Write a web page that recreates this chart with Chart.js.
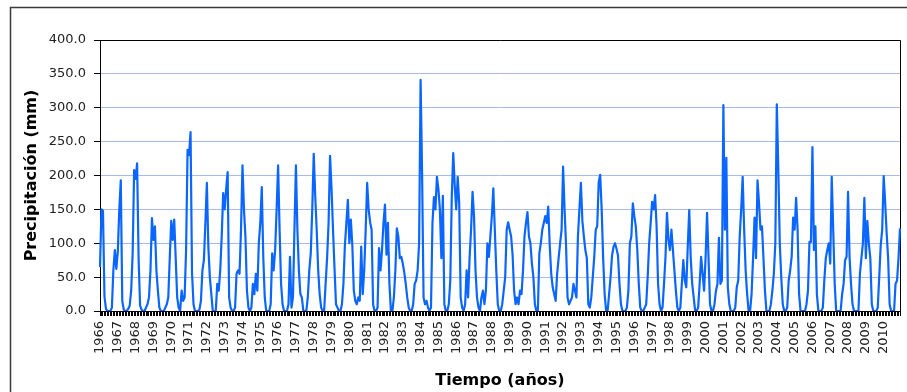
<!DOCTYPE html>
<html>
<head>
<meta charset="utf-8">
<script src="https://cdn.jsdelivr.net/npm/chart.js@4/dist/chart.umd.min.js"></script>
<style>
  html, body { margin: 0; padding: 0; background: #ffffff; }
  #wrap { width: 907px; height: 392px; position: relative; }
</style>
</head>
<body>
<div id="wrap"><canvas id="chart" width="907" height="392"></canvas></div>
<script>
// ---- Data (monthly precipitation, mm; Jan..Dec per year) ----
const years = [1966,1967,1968,1969,1970,1971,1972,1973,1974,1975,1976,1977,1978,1979,1980,
  1981,1982,1983,1984,1985,1986,1987,1988,1989,1990,1991,1992,1993,1994,1995,1996,1997,1998,
  1999,2000,2001,2002,2003,2004,2005,2006,2007,2008,2009,2010];

const precipitation = [
  /*1966*/ 65, 150, 148, 22, 3, 0, 0, 0, 5, 60, 90, 62,
  /*1967*/ 88, 150, 193, 15, 2, 0, 0, 3, 8, 30, 85, 208,
  /*1968*/ 195, 218, 78, 8, 2, 0, 0, 5, 10, 20, 60, 137,
  /*1969*/ 105, 125, 60, 30, 5, 0, 0, 0, 5, 10, 20, 78,
  /*1970*/ 133, 105, 135, 78, 20, 5, 0, 30, 15, 20, 90, 238,
  /*1971*/ 230, 264, 56, 10, 0, 0, 0, 2, 15, 60, 75, 130,
  /*1972*/ 189, 95, 50, 25, 0, 0, 0, 40, 30, 60, 110, 174,
  /*1973*/ 150, 180, 205, 20, 5, 0, 0, 5, 55, 60, 55, 120,
  /*1974*/ 215, 150, 109, 30, 5, 0, 5, 40, 25, 55, 30, 100,
  /*1975*/ 130, 183, 80, 20, 0, 0, 0, 10, 85, 60, 90, 150,
  /*1976*/ 215, 120, 40, 10, 0, 0, 0, 10, 80, 5, 20, 120,
  /*1977*/ 215, 120, 60, 25, 20, 0, 0, 0, 20, 60, 85, 150,
  /*1978*/ 232, 170, 120, 60, 25, 5, 0, 0, 40, 78, 130, 229,
  /*1979*/ 180, 120, 63, 10, 5, 0, 0, 10, 40, 97, 130, 164,
  /*1980*/ 100, 135, 97, 30, 15, 10, 20, 15, 95, 25, 60, 120,
  /*1981*/ 189, 150, 131, 120, 10, 0, 0, 5, 93, 60, 90, 130,
  /*1982*/ 157, 83, 130, 40, 0, 0, 20, 60, 122, 110, 78, 80,
  /*1983*/ 70, 57, 40, 20, 5, 0, 0, 10, 40, 45, 60, 100,
  /*1984*/ 341, 204, 20, 10, 15, 5, 0, 5, 130, 168, 150, 198,
  /*1985*/ 180, 150, 78, 170, 10, 0, 0, 10, 45, 168, 233, 185,
  /*1986*/ 150, 198, 160, 20, 5, 0, 10, 60, 20, 78, 120, 176,
  /*1987*/ 140, 60, 20, 5, 0, 20, 30, 10, 30, 100, 80, 110,
  /*1988*/ 140, 181, 120, 60, 10, 0, 0, 10, 30, 50, 120, 131,
  /*1989*/ 120, 110, 82, 30, 10, 20, 10, 30, 25, 60, 110, 130,
  /*1990*/ 146, 110, 100, 70, 50, 10, 0, 0, 85, 100, 120, 130,
  /*1991*/ 140, 130, 154, 97, 55, 35, 25, 15, 55, 78, 100, 120,
  /*1992*/ 213, 150, 97, 20, 10, 15, 20, 40, 30, 20, 110, 150,
  /*1993*/ 189, 133, 110, 90, 78, 10, 5, 20, 50, 80, 120, 125,
  /*1994*/ 190, 201, 150, 78, 25, 0, 0, 25, 50, 82, 95, 100,
  /*1995*/ 92, 82, 40, 10, 0, 0, 0, 5, 30, 100, 110, 159,
  /*1996*/ 140, 125, 90, 40, 5, 0, 0, 5, 10, 50, 100, 130,
  /*1997*/ 161, 150, 171, 125, 40, 10, 0, 5, 40, 80, 145, 105,
  /*1998*/ 90, 120, 90, 60, 30, 5, 0, 5, 40, 75, 45, 35,
  /*1999*/ 95, 149, 78, 40, 20, 0, 0, 5, 40, 80, 55, 30,
  /*2000*/ 78, 145, 78, 10, 0, 0, 10, 30, 40, 108, 40, 45,
  /*2001*/ 304, 120, 226, 35, 10, 0, 0, 0, 5, 35, 45, 110,
  /*2002*/ 150, 198, 120, 60, 25, 0, 0, 25, 78, 138, 78, 193,
  /*2003*/ 160, 120, 125, 78, 30, 0, 0, 0, 10, 30, 55, 100,
  /*2004*/ 305, 210, 100, 50, 10, 0, 0, 5, 45, 60, 80, 138,
  /*2005*/ 120, 167, 120, 25, 0, 0, 0, 0, 10, 30, 102, 102,
  /*2006*/ 242, 90, 125, 25, 0, 0, 0, 5, 45, 78, 90, 100,
  /*2007*/ 70, 198, 120, 40, 0, 0, 0, 0, 25, 40, 75, 80,
  /*2008*/ 176, 80, 40, 10, 0, 0, 0, 0, 55, 78, 100, 167,
  /*2009*/ 78, 133, 100, 78, 10, 0, 0, 0, 5, 50, 97, 120,
  /*2010*/ 199, 160, 115, 78, 10, 0, 0, 0, 40, 45, 78, 122
];

const monthsPerYear = 12;
const yMin = 0, yMax = 400, yStep = 25;
const yTitle = 'Precipitación (mm)';
const xTitle = 'Tiempo (años)';
// x tick labels: one per January
const xTickLabels = years.map(String);

// categories: one per month
const categories = [];
years.forEach(y => { for (let m = 1; m <= monthsPerYear; m++) categories.push(y + '-' + m); });

const FONT = '"DejaVu Sans", Verdana, sans-serif';

const framePlugin = {
  id: 'frame',
  beforeDraw(chart) {
    const ctx = chart.ctx;
    ctx.save();
    ctx.fillStyle = '#ffffff';
    ctx.fillRect(0, 0, chart.width, chart.height);
    ctx.strokeStyle = '#3a3a3a';
    ctx.lineWidth = 1.5;
    ctx.beginPath();
    ctx.moveTo(10.5, chart.height + 2);
    ctx.lineTo(10.5, 7.5);
    ctx.lineTo(chart.width + 2, 7.5);
    ctx.stroke();
    ctx.restore();
  },
  beforeDatasetsDraw(chart) {
    const a = chart.chartArea, ctx = chart.ctx;
    ctx.save();
    ctx.strokeStyle = '#000000';
    ctx.lineWidth = 1;
    ctx.beginPath();
    ctx.moveTo(a.left, Math.round(a.top) + 0.5);
    ctx.lineTo(Math.round(a.right) + 0.5, Math.round(a.top) + 0.5);
    ctx.lineTo(Math.round(a.right) + 0.5, a.bottom);
    ctx.stroke();
    ctx.restore();
  }
};

new Chart(document.getElementById('chart'), {
  type: 'line',
  data: {
    labels: categories,
    datasets: [{
      data: precipitation,
      borderColor: '#0a66ff',
      borderWidth: 2.2,
      pointRadius: 0,
      tension: 0,
      fill: false,
      borderJoinStyle: 'round'
    }]
  },
  options: {
    responsive: false,
    animation: false,
    devicePixelRatio: 1,
    layout: { padding: { left: 10, top: 40, right: 7, bottom: 0 } },
    plugins: { legend: { display: false }, tooltip: { enabled: false } },
    scales: {
      x: {
        type: 'category',
        afterFit(scale) { scale.height = 81; scale.paddingLeft = 0; scale.paddingRight = 0; },
        grid: { display: true, drawOnChartArea: false, drawTicks: true, tickLength: 5, color: '#000000', tickColor: '#000000' },
        border: { display: true, color: '#000000', width: 1 },
        ticks: {
          autoSkip: false,
          maxRotation: 90,
          minRotation: 90,
          padding: 5,
          color: '#222222',
          font: { family: FONT, size: 13 },
          callback(value, index) {
            return index % monthsPerYear === 0 ? xTickLabels[index / monthsPerYear] : '';
          }
        },
        title: {
          display: true,
          text: xTitle,
          color: '#000000',
          font: { family: FONT, size: 16, weight: 'bold' },
          padding: { top: 0, bottom: 2 }
        }
      },
      y: {
        min: yMin,
        max: yMax,
        afterFit(scale) { scale.width = 90; },
        grid: { color: '#a7bde8', lineWidth: 1, drawTicks: true, tickLength: 6, tickColor: '#000000' },
        border: { display: true, color: '#000000', width: 1 },
        ticks: {
          stepSize: yStep,
          padding: 8,
          color: '#222222',
          font: { family: FONT, size: 13 },
          callback(value) { return Number(value).toFixed(1); }
        },
        title: {
          display: true,
          text: yTitle,
          color: '#000000',
          font: { family: FONT, size: 16, weight: 'bold' },
          padding: { top: 12, bottom: 0 }
        }
      }
    }
  },
  plugins: [framePlugin]
});
</script>
</body>
</html>
